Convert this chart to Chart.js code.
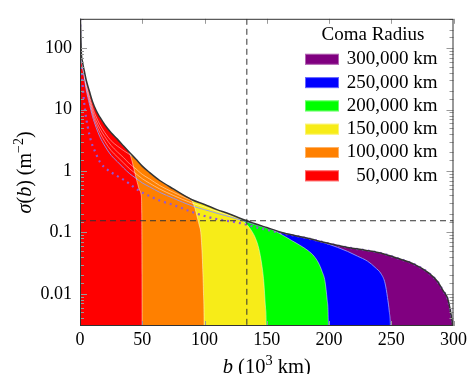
<!DOCTYPE html>
<html>
<head>
<meta charset="utf-8">
<script src="https://cdn.jsdelivr.net/npm/chart.js@4.4.0/dist/chart.umd.min.js"></script>
<style>
html, body { margin: 0; padding: 0; background: #fff; }
</style>
</head>
<body>
<canvas id="sigmaChart" width="470" height="374"></canvas>
<script>
// impact parameter b (10^3 km) and column density sigma(b) (m^-2)
const bEnvelope = [0.2,1,2,3.5,5,7.5,10,13,16,20,25,30,35,40,45,50,56,64,75,90,100,110,120,130,140,150,162,175,189,200,215,230,242,255,269,280,287,292,295,297,298.5,299.5,300];
const sigmaEnvelope = [400,90,60,42,30,20,13.5,9.6,7.5,5.6,4.2,3.3,2.55,1.98,1.55,1.2,0.94,0.7,0.51,0.34,0.285,0.235,0.2,0.165,0.14,0.12,0.10,0.087,0.075,0.066,0.057,0.051,0.046,0.038,0.030,0.022,0.016,0.011,0.0087,0.006,0.004,0.002,0.0001];

const bRed = [0.2,1,2,3.5,5,7.5,10,13,16,20,25,30,35,38,40,42,44,46,48,49.2,49.6,49.8,50];
const sigmaRed = [400,90,60,42,30,20,13.5,9.6,7.5,5.6,4.2,3.3,2.55,2.2,1.9,1.4,0.95,0.65,0.48,0.4,0.2,0.02,0.0001];

const bOrange = [0.2,1,2,3.5,5,7.5,10,13,16,20,25,30,35,40,45,50,56,64,75,85,89,92,94.4,96,97,98,98.6,99.2,99.7,100];
const sigmaOrange = [400,88,57,39,27,17,11,7.6,5.7,4.2,3.1,2.55,2.15,1.85,1.55,1.2,0.94,0.7,0.51,0.39,0.35,0.26,0.17,0.125,0.1,0.05,0.025,0.01,0.003,0.0001];

const bYellow = [0.2,1,2,3.5,5,7.5,10,13,16,20,25,30,35,40,45,50,56,64,75,90,100,110,120,126,130,134,138,141,143.6,146,147.6,149,149.6,150];
const sigmaYellow = [400,86,55,37,25,15.5,9.8,6.6,4.9,3.6,2.6,2.05,1.65,1.3,1.08,0.88,0.74,0.58,0.45,0.33,0.285,0.235,0.2,0.18,0.16,0.135,0.105,0.08,0.055,0.03,0.016,0.006,0.003,0.0001];

const bGreen = [0.2,1,2,3.5,5,7.5,10,13,16,20,25,30,35,40,45,50,56,64,75,90,100,110,120,130,140,150,155,160,165,170,176,183.5,188,191.5,194.5,196.8,198.5,199.5,200];
const sigmaGreen = [400,84,53,35,23,14,8.8,5.8,4.2,3.0,2.15,1.7,1.35,1.08,0.9,0.75,0.63,0.51,0.4,0.3,0.26,0.22,0.19,0.165,0.14,0.12,0.11,0.097,0.085,0.074,0.063,0.05,0.041,0.032,0.023,0.016,0.008,0.003,0.0001];

const bBlue = [0.2,1,2,3.5,5,7.5,10,13,16,20,25,30,35,40,45,50,56,64,75,90,100,110,120,130,140,150,162,175,189,195,200,207,215,223,231,237,242,245,247,248.5,249.5,250];
const sigmaBlue = [400,82,51,33,21,12.5,7.8,5.1,3.6,2.55,1.8,1.42,1.12,0.9,0.76,0.64,0.55,0.45,0.36,0.27,0.235,0.205,0.18,0.157,0.135,0.118,0.1,0.087,0.075,0.069,0.064,0.057,0.049,0.041,0.034,0.027,0.021,0.015,0.0087,0.005,0.002,0.0001];

const bPurple = [0.1,0.5,1.2,2.5,4,6,9,12,16,22,29,36,42.5,48,56,64,75,90,100,110,120,130,140,150,162,175,189,200,215,230,242,255,269,280,287,292,295,297,298.5,299.5,300];
const sigmaPurple = [300,100,50,20,10,5.5,3,2.1,1.4,1.05,0.85,0.7,0.56,0.47,0.39,0.33,0.28,0.215,0.185,0.165,0.152,0.14,0.123,0.11,0.097,0.087,0.075,0.066,0.057,0.051,0.046,0.038,0.030,0.022,0.016,0.011,0.0087,0.006,0.004,0.002,0.0001];

const comaLabels = ['300,000 km', '250,000 km', '200,000 km', '150,000 km', '100,000 km', '50,000 km'];
const comaColors = ['#800080', '#0000ff', '#00ff00', '#f7ec18', '#ff8000', '#ff0000'];

const bRange = [0, 300];
const sigmaRange = [0.003, 300];
const bCut = 134;
const sigmaCut = 0.155;

const serif = '"Liberation Serif", "DejaVu Serif", serif';

function toPoints(xs, ys) {
    return xs.map((x, i) => ({ x: x, y: ys[i] }));
}

function comaDataset(label, xs, ys, color, line) {
    return {
        label: label,
        data: toPoints(xs, ys),
        backgroundColor: color,
        borderColor: line || 'rgba(255,255,255,0.45)',
        borderWidth: 1,
        fill: 'start',
        pointRadius: 0,
        cubicInterpolationMode: 'monotone'
    };
}

function drawRuns(ctx, runs, size) {
    let total = 0;
    runs.forEach(r => {
        ctx.font = (r.it ? 'italic ' : '') + (r.sup ? size * 0.7 : size) + 'px ' + serif;
        r.w = ctx.measureText(r.t).width;
        total += r.w;
    });
    let x = -total / 2;
    runs.forEach(r => {
        ctx.font = (r.it ? 'italic ' : '') + (r.sup ? size * 0.7 : size) + 'px ' + serif;
        ctx.fillText(r.t, x, r.sup ? -size * 0.4 : 0);
        x += r.w;
    });
}

const overlay = {
    id: 'overlay',
    afterDraw(chart) {
        const ctx = chart.ctx;
        const area = chart.chartArea;
        const xs = chart.scales.x;
        const ys = chart.scales.y;
        ctx.save();

        // inward tick marks
        ctx.strokeStyle = '#999';
        ctx.lineWidth = 1;
        ys.ticks.forEach(t => {
            const py = Math.round(ys.getPixelForValue(t.value)) + 0.5;
            if (py < area.top || py > area.bottom) return;
            const l = Math.log10(t.value);
            const len = Math.abs(l - Math.round(l)) < 1e-6 ? 7 : 4;
            ctx.beginPath();
            ctx.moveTo(area.left, py); ctx.lineTo(area.left + len, py);
            ctx.moveTo(area.right, py); ctx.lineTo(area.right - len, py);
            ctx.stroke();
        });
        xs.ticks.forEach(t => {
            const px = Math.round(xs.getPixelForValue(t.value)) + 0.5;
            ctx.beginPath();
            ctx.moveTo(px, area.bottom); ctx.lineTo(px, area.bottom - 5);
            ctx.moveTo(px, area.top); ctx.lineTo(px, area.top + 5);
            ctx.stroke();
        });

        // frame
        ctx.strokeStyle = '#333';
        ctx.strokeRect(area.left + 0.5, area.top + 0.5, area.right - area.left - 1, area.bottom - area.top - 1);

        // axis titles
        ctx.fillStyle = '#000';
        ctx.textBaseline = 'alphabetic';
        ctx.textAlign = 'left';
        ctx.save();
        ctx.translate((area.left + area.right) / 2, 373);
        drawRuns(ctx, [{ t: 'b', it: true }, { t: ' (10' }, { t: '3', sup: true }, { t: ' km)' }], 20.5);
        ctx.restore();
        ctx.save();
        ctx.translate(30.5, (area.top + area.bottom) / 2);
        ctx.rotate(-Math.PI / 2);
        drawRuns(ctx, [{ t: 'σ', it: true }, { t: '(' }, { t: 'b', it: true }, { t: ') (m' }, { t: '−2', sup: true }, { t: ')' }], 20);
        ctx.restore();

        // legend
        ctx.font = '19px ' + serif;
        ctx.textAlign = 'center';
        ctx.textBaseline = 'middle';
        ctx.fillText('Coma Radius', 373, 35);
        comaLabels.forEach((label, i) => {
            const cy = 59.3 + i * 23.3;
            ctx.fillStyle = comaColors[i];
            ctx.fillRect(305, cy - 5.5, 34, 11);
            ctx.strokeStyle = 'rgba(255,255,255,0.4)';
            ctx.strokeRect(305.5, cy - 5, 33, 10);
            ctx.fillStyle = '#000';
            ctx.textAlign = 'right';
            ctx.fillText(label, 437.5, cy);
        });
        ctx.restore();
    }
};

new Chart(document.getElementById('sigmaChart'), {
    type: 'line',
    data: {
        datasets: [
            {
                label: 'envelope',
                data: toPoints(bEnvelope, sigmaEnvelope),
                borderColor: '#333',
                borderWidth: 1.5,
                fill: false,
                pointRadius: 0,
                cubicInterpolationMode: 'monotone'
            },
            {
                label: 'cut b',
                data: [{ x: bCut, y: sigmaRange[1] }, { x: bCut, y: sigmaRange[0] }],
                borderColor: '#333',
                borderWidth: 1,
                borderDash: [6, 4],
                fill: false,
                pointRadius: 0
            },
            {
                label: 'cut sigma',
                data: [{ x: bRange[0], y: sigmaCut }, { x: bRange[1], y: sigmaCut }],
                borderColor: '#333',
                borderWidth: 1,
                borderDash: [6, 4],
                fill: false,
                pointRadius: 0
            },
            comaDataset(comaLabels[5], bRed, sigmaRed, comaColors[5]),
            comaDataset(comaLabels[4], bOrange, sigmaOrange, comaColors[4]),
            comaDataset(comaLabels[3], bYellow, sigmaYellow, comaColors[3]),
            comaDataset(comaLabels[2], bGreen, sigmaGreen, comaColors[2]),
            comaDataset(comaLabels[1], bBlue, sigmaBlue, comaColors[1], 'rgba(140,150,255,0.9)'),
            Object.assign(comaDataset(comaLabels[0], bPurple, sigmaPurple, comaColors[0], '#9057d8'), {
                borderWidth: 2.2,
                borderDash: [2, 4]
            })
        ]
    },
    options: {
        responsive: false,
        animation: false,
        layout: { padding: { top: 13, right: 14, left: 0, bottom: 0 } },
        plugins: {
            legend: { display: false },
            tooltip: { enabled: false },
            filler: { drawTime: 'beforeDatasetsDraw' }
        },
        scales: {
            x: {
                type: 'linear',
                min: bRange[0],
                max: bRange[1],
                grid: { display: false, drawTicks: false },
                border: { display: false },
                ticks: {
                    stepSize: 50,
                    padding: 3,
                    color: '#000',
                    font: { family: serif, size: 18 },
                    maxRotation: 0
                },
                afterFit(scale) { scale.height = 48; }
            },
            y: {
                type: 'logarithmic',
                min: sigmaRange[0],
                max: sigmaRange[1],
                grid: { display: false, drawTicks: false },
                border: { display: false },
                ticks: {
                    autoSkip: false,
                    padding: 8,
                    color: '#000',
                    font: { family: serif, size: 18 },
                    callback: function(v) {
                        const l = Math.log10(v);
                        return Math.abs(l - Math.round(l)) < 1e-6 ? String(Number(v.toPrecision(3))) : '';
                    }
                },
                afterFit(scale) { scale.width = 80; }
            }
        }
    },
    plugins: [overlay]
});
</script>
</body>
</html>
